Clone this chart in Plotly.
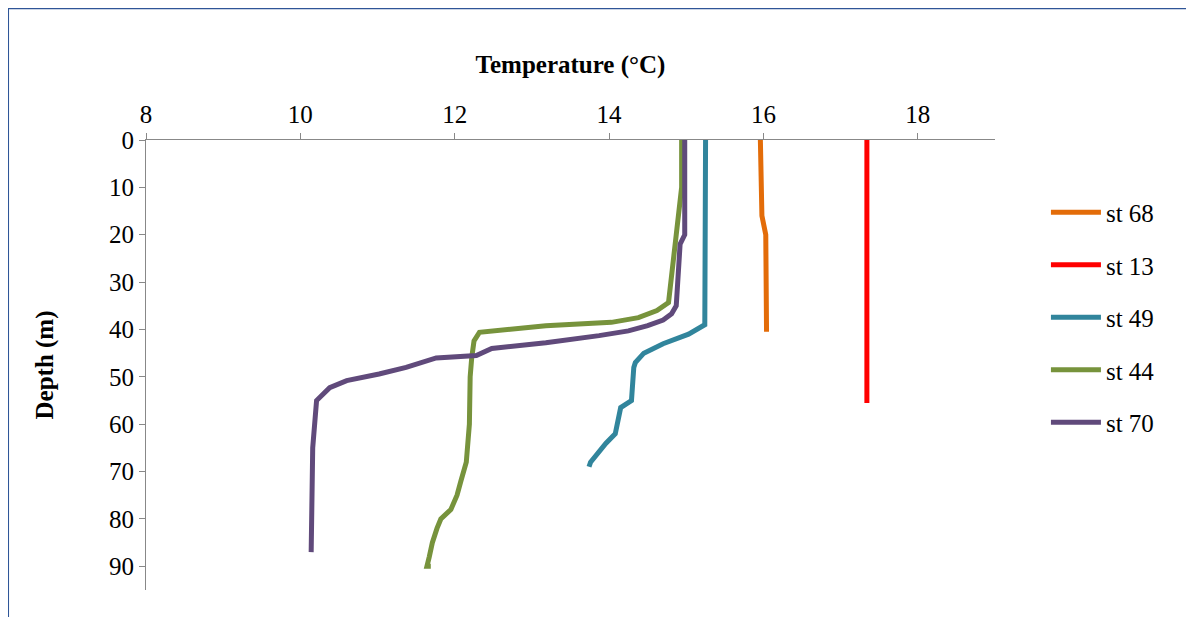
import plotly.graph_objects as go

st68_t = [15.96, 15.97, 15.98, 16.03, 16.04, 16.04]
st68_d = [0, 10, 16, 20, 30, 40.5]
st13_t = [17.34, 17.34, 17.35, 17.34]
st13_d = [0, 20, 40, 55.5]
st49_t = [15.25, 15.25, 15.25, 15.24, 15.03, 14.7, 14.45, 14.34, 14.32, 14.29, 14.15, 14.1, 14.08, 13.96, 13.87, 13.76, 13.74]
st49_d = [0, 10, 30, 39, 41, 43, 45, 47, 48, 55, 56.5, 60, 62, 64, 66, 68, 69]
st44_t = [14.94, 14.94, 14.87, 14.81, 14.77, 14.62, 14.38, 14.03, 13.18, 12.32, 12.25, 12.22, 12.2, 12.19, 12.15, 12.08, 12.03, 11.95, 11.82, 11.77, 11.71, 11.67, 11.64, 11.69]
st44_d = [0, 10, 20, 30, 34.3, 36, 37.5, 38.5, 39.2, 40.6, 42.4, 46, 50, 60, 68, 72, 75, 78, 80, 82, 85, 88, 90, 90]
st70_t = [14.98, 14.98, 14.92, 14.89, 14.87, 14.81, 14.7, 14.5, 14.25, 13.87, 13.18, 12.48, 12.28, 11.76, 11.37, 11.02, 10.6, 10.38, 10.21, 10.16, 10.14, 10.14]
st70_d = [0, 20, 22, 30, 35, 36.7, 38, 39.2, 40.3, 41.3, 42.8, 44, 45.5, 46, 48, 49.4, 50.8, 52.3, 55, 65, 80, 87]

series = [("st 68", st68_t, st68_d, "#E36C09"),
          ("st 13", st13_t, st13_d, "#FF0000"),
          ("st 49", st49_t, st49_d, "#31859C"),
          ("st 44", st44_t, st44_d, "#77933C"),
          ("st 70", st70_t, st70_d, "#604A7B")]

fig = go.Figure()
for name, t, d, c in series:
    fig.add_trace(go.Scatter(x=t, y=d, name=name, mode="lines", legendgroup=name,
                             line=dict(color=c, width=5)))

tf = dict(family="Liberation Serif", size=25, color="black", weight="normal")
tt = dict(family="Liberation Serif", size=25, color="black", weight="bold")
fig.update_layout(
    template="none",
    width=1194, height=617, plot_bgcolor="white", paper_bgcolor="white",
    margin=dict(l=138, r=207, t=132, b=35),
    font=tf,
    xaxis=dict(side="top", range=[8, 19], tickvals=[8, 10, 12, 14, 16, 18],
               tickfont=tf, showgrid=False, zeroline=False,
               showline=True, linecolor="#888", linewidth=1,
               ticks="outside", tickcolor="#888", ticklen=6,
               title=dict(text="Temperature (°C)", standoff=20, font=tt)),
    yaxis=dict(range=[95, 0], tickvals=list(range(0, 100, 10)), showgrid=False,
               tickfont=tf, zeroline=False, showline=True, linecolor="#888", linewidth=1,
               ticks="outside", tickcolor="#888", ticklen=6,
               title=dict(text="Depth (m)", standoff=48, font=tt)),
    legend=dict(x=1.06, y=0.89, yanchor="top",
                font=dict(family="Liberation Serif", size=25, color="black"),
                tracegroupgap=17, itemwidth=50),
    shapes=[dict(type="rect", xref="paper", yref="paper", x0=-0.1625, x1=1.3,
                 y0=-0.2, y1=1.293, line=dict(color="#2F5597", width=2))],
)
fig.write_html("out.html")
